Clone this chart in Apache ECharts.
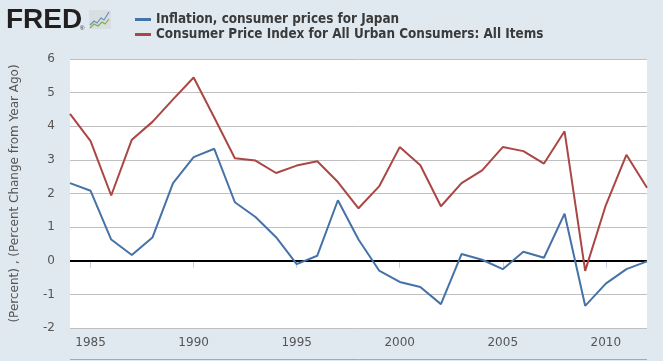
<!DOCTYPE html>
<html><head><meta charset="utf-8">
<script src="https://cdn.jsdelivr.net/npm/echarts@6/dist/echarts.min.js"></script>
<style>html,body{margin:0;padding:0;background:#E1E9F0;}#c{width:663px;height:361px;}</style>
</head><body><div id="c"></div>
<script>
const years = [];
for (let y = 1984; y <= 2012; y++) years.push(String(y));
const japanInflation = [2.31, 2.08, 0.63, 0.17, 0.69, 2.31, 3.08, 3.33, 1.74, 1.30, 0.70, -0.10, 0.15, 1.80, 0.63, -0.29, -0.63, -0.78, -1.29, 0.20, 0.03, -0.25, 0.27, 0.09, 1.40, -1.34, -0.68, -0.25, -0.02];
const usCPI = [4.37, 3.56, 1.94, 3.60, 4.13, 4.80, 5.45, 4.26, 3.05, 2.98, 2.61, 2.83, 2.96, 2.34, 1.56, 2.21, 3.38, 2.84, 1.62, 2.31, 2.69, 3.38, 3.26, 2.89, 3.85, -0.30, 1.65, 3.15, 2.17];
const yTicks = {min: -2, max: 6, step: 1};
const seriesNames = ['Inflation, consumer prices for Japan', 'Consumer Price Index for All Urban Consumers: All Items'];
const yAxisTitle = '(Percent) , (Percent Change from Year Ago)';

const chart = echarts.init(document.getElementById('c'), null, {renderer: 'canvas'});
const show5 = (i, v) => Number(v) % 5 === 0;
chart.setOption({
  backgroundColor: '#E1E9F0',
  animation: false,
  grid: {left: 70, right: 16, top: 59, bottom: 33, containLabel: false, show: true, backgroundColor: '#FFFFFF', borderWidth: 0},
  legend: {
    orient: 'vertical', left: 130, top: 12, itemGap: 0, padding: [0, 5],
    itemWidth: 16, itemHeight: 3, icon: 'rect',
    textStyle: {fontFamily: 'DejaVu Sans Condensed', fontWeight: 'bold', fontSize: 13.4, color: '#3A3A3A', lineHeight: 15, height: 15},
    data: seriesNames
  },
  graphic: [
    {type: 'text', left: 6, top: 6, style: {text: 'FRED', font: 'bold 28px "Liberation Sans"', fill: '#231F20'}},
    {type: 'text', left: 80, top: 25, style: {text: '®', font: '6px "Liberation Sans"', fill: '#231F20'}},
    {type: 'rect', shape: {x: 89, y: 10, width: 22, height: 19, r: 1}, style: {fill: '#D9DEE3'}},
    {type: 'polyline', shape: {points: [[90,25],[94,21],[97,23],[101,18],[104,20],[109,12]]}, style: {stroke: '#6A8FB8', lineWidth: 1.2, fill: null}},
    {type: 'polyline', shape: {points: [[90,28],[94,24],[98,26],[102,22],[105,24],[109,19]]}, style: {stroke: '#7FAF3F', lineWidth: 1.2, fill: null}},
    {type: 'line', shape: {x1: 70, y1: 359.5, x2: 647, y2: 359.5}, style: {stroke: '#A8A8A8', lineWidth: 1}}
  ],
  xAxis: {
    type: 'category', data: years, boundaryGap: false,
    axisLine: {show: false},
    axisTick: {show: true, interval: show5, length: 7, lineStyle: {color: '#C0D0E0', width: 1}},
    axisLabel: {interval: show5, color: '#555', fontFamily: 'DejaVu Sans', fontSize: 12, margin: 9},
    splitLine: {show: false}
  },
  yAxis: {
    type: 'value', min: yTicks.min, max: yTicks.max, interval: yTicks.step,
    name: yAxisTitle, nameLocation: 'middle', nameGap: 49, nameRotate: 90,
    nameTextStyle: {color: '#555', fontFamily: 'DejaVu Sans', fontSize: 12},
    axisLine: {show: false}, axisTick: {show: false},
    axisLabel: {color: '#555', fontFamily: 'DejaVu Sans', fontSize: 12, margin: 15},
    splitLine: {show: true, lineStyle: {color: '#C0C0C0', width: 1}}
  },
  series: [
    {name: seriesNames[0], type: 'line', data: japanInflation, showSymbol: false, symbol: 'none',
     lineStyle: {color: '#4572A7', width: 2}, itemStyle: {color: '#4572A7'}, z: 3,
     markLine: {silent: true, symbol: 'none', label: {show: false}, lineStyle: {color: '#000', width: 2, type: 'solid'}, data: [{yAxis: 0}], z: 2}},
    {name: seriesNames[1], type: 'line', data: usCPI, showSymbol: false, symbol: 'none',
     lineStyle: {color: '#AA4643', width: 2}, itemStyle: {color: '#AA4643'}, z: 3}
  ]
});
</script></body></html>
